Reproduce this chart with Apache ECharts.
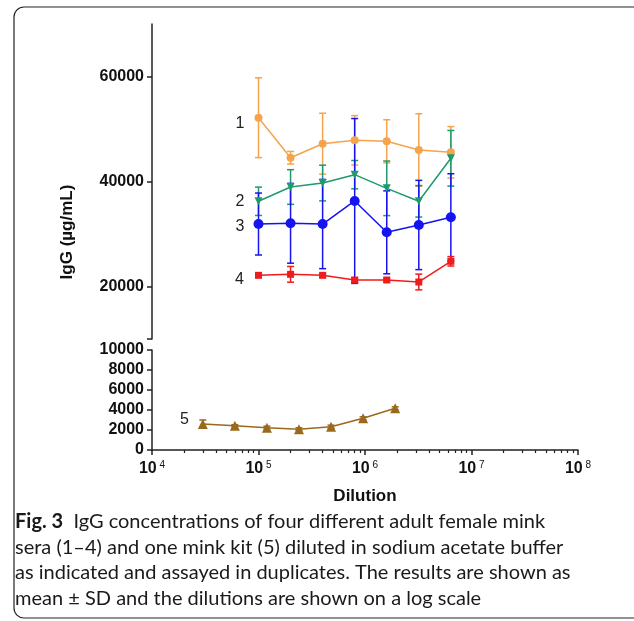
<!DOCTYPE html>
<html>
<head>
<meta charset="utf-8">
<script src="https://cdn.jsdelivr.net/npm/echarts@6/dist/echarts.min.js"></script>
<style>html,body{margin:0;padding:0;background:#fff;}#c{width:634px;height:621px;}</style>
</head>
<body>
<div id="c"></div>
<script>
// ---- data ----
const dilutions = [1e5, 2e5, 4e5, 8e5, 1.6e6, 3.2e6, 6.4e6];
const kitDilutions = [3e4, 6e4, 1.2e5, 2.4e5, 4.8e5, 9.6e5, 1.92e6];
const serum1Mean = [52150, 44530, 47200, 47850, 47660, 46000, 45560];
const serum1SD   = [7600, 1200, 5800, 4700, 4100, 6900, 4900];
const serum2Mean = [36230, 38950, 39710, 41300, 38700, 36230, 44420];
const serum2SD   = [2700, 3300, 3400, 2700, 5200, 3000, 5300];
const serum3Mean = [31900, 32040, 31900, 36290, 30320, 31715, 33180];
const serum3SD   = [5900, 7600, 8500, 15700, 7900, 8500, 8300];
const serum4Mean = [22130, 22320, 22130, 21240, 21240, 20860, 24800];
const serum4SD   = [200, 1500, 300, 400, 300, 1500, 900];
const kitMean    = [2600, 2430, 2230, 2070, 2330, 3170, 4170];
const kitSD      = [400, 100, 150, 150, 150, 150, 150];
const seriesNames = ['1', '2', '3', '4', '5'];
const upperTicks = [20000, 40000, 60000];
const xMajorTicks = [1e4, 1e5, 1e6, 1e7, 1e8];
const xMinorTicks = [];
for (let d = 1e4; d < 1e8; d *= 10) for (let k = 2; k <= 9; k++) xMinorTicks.push(k * d);
const captionBold = 'Fig. 3';
const captionLines = [
  '  IgG concentrations of four different adult female mink',
  'sera (1–4) and one mink kit (5) diluted in sodium acetate buffer',
  'as indicated and assayed in duplicates. The results are shown as',
  'mean ± SD and the dilutions are shown on a log scale'
];

const colors = ['#F6A34E', '#1E9A6C', '#1414F0', '#EE1C1C', '#9A6A1C'];
const AX = '#222';
const LF = 'Liberation Sans';
const CF = 'Lato';

function pts(xs, ys) { return xs.map((x, i) => [x, ys[i]]); }
function errPts(xs, ys, sd) { return xs.map((x, i) => [x, ys[i], sd[i]]); }

function errSeries(data, color, gi) {
  return {
    type: 'custom', xAxisIndex: gi === 0 ? 0 : 1, yAxisIndex: gi, z: 2,
    data: data, silent: true,
    renderItem: function (params, api) {
      const x = api.value(0), y = api.value(1), e = api.value(2);
      const t = api.coord([x, y + e]), b = api.coord([x, y - e]);
      const w = 3.5;
      const st = { stroke: color, lineWidth: 1.5 };
      return { type: 'group', children: [
        { type: 'line', shape: { x1: t[0], y1: t[1], x2: b[0], y2: b[1] }, style: st },
        { type: 'line', shape: { x1: t[0] - w, y1: t[1], x2: t[0] + w, y2: t[1] }, style: st },
        { type: 'line', shape: { x1: b[0] - w, y1: b[1], x2: b[0] + w, y2: b[1] }, style: st }
      ]};
    }
  };
}
function lineSeries(name, data, color, gi, symbol, size, rot, lblOffset, lblDist) {
  return {
    name: name, type: 'line', xAxisIndex: gi === 0 ? 0 : 1, yAxisIndex: gi, z: 3,
    data: data, symbol: symbol, symbolSize: size, symbolRotate: rot,
    lineStyle: { color: color, width: 1.5 }, itemStyle: { color: color },
    animation: false,
    label: { show: true, position: 'left', distance: lblDist, offset: lblOffset,
      color: '#222', fontFamily: LF, fontSize: 16,
      formatter: p => p.dataIndex === 0 ? name : '' }
  };
}

const chart = echarts.init(document.getElementById('c'), null, { renderer: 'canvas' });
const boldLbl = { color: '#111', fontFamily: LF, fontWeight: 'bold', fontSize: 16, formatter: v => String(v) };
chart.setOption({
  animation: false,
  grid: [
    { left: 152, top: 24, width: 426, height: 315 },
    { left: 152, top: 350, width: 426, height: 100 }
  ],
  xAxis: [
    { type: 'log', gridIndex: 0, min: 1e4, max: 1e8, show: false },
    { type: 'log', gridIndex: 1, min: 1e4, max: 1e8, position: 'bottom',
      axisLine: { lineStyle: { color: AX, width: 1.5 } },
      axisTick: { length: 5, lineStyle: { color: AX, width: 1.5 }, customValues: xMajorTicks },
      axisLabel: { margin: 10, customValues: xMajorTicks,
        formatter: v => '{b|10}{s| ' + Math.round(Math.log10(v)) + '}',
        rich: { b: { fontFamily: LF, fontWeight: 'bold', fontSize: 16, color: '#111' },
                s: { fontFamily: LF, fontSize: 10, color: '#111', verticalAlign: 'top', padding: [0, 0, 8, 0] } } },
      splitLine: { show: false },
      name: 'Dilution', nameLocation: 'middle', nameGap: 38,
      nameTextStyle: { fontFamily: LF, fontWeight: 'bold', fontSize: 17, color: '#111' } },
    { type: 'log', gridIndex: 1, min: 1e4, max: 1e8, position: 'bottom',
      axisLine: { show: false },
      axisTick: { length: 3, lineStyle: { color: AX, width: 1.2 }, customValues: xMinorTicks },
      axisLabel: { show: false }, splitLine: { show: false } }
  ],
  yAxis: [
    { type: 'value', gridIndex: 0, min: 10000, max: 70000,
      axisLine: { show: true, lineStyle: { color: AX, width: 1.5 } },
      axisTick: { show: true, length: 5, lineStyle: { color: AX, width: 1.5 }, customValues: [10000].concat(upperTicks) },
      axisLabel: Object.assign({ margin: 8, customValues: upperTicks }, boldLbl),
      splitLine: { show: false } },
    { type: 'value', gridIndex: 1, min: 0, max: 10000, interval: 2000,
      axisLine: { show: true, lineStyle: { color: AX, width: 1.5 } },
      axisTick: { show: true, length: 5, lineStyle: { color: AX, width: 1.5 } },
      axisLabel: Object.assign({ margin: 8 }, boldLbl),
      splitLine: { show: false } }
  ],
  series: [
    errSeries(errPts(dilutions, serum1Mean, serum1SD), colors[0], 0),
    errSeries(errPts(dilutions, serum2Mean, serum2SD), colors[1], 0),
    errSeries(errPts(dilutions, serum3Mean, serum3SD), colors[2], 0),
    errSeries(errPts(dilutions, serum4Mean, serum4SD), colors[3], 0),
    errSeries(errPts(kitDilutions, kitMean, kitSD), colors[4], 1),
    lineSeries(seriesNames[0], pts(dilutions, serum1Mean), colors[0], 0, 'circle', 8, 0, [0, 6], 10),
    lineSeries(seriesNames[1], pts(dilutions, serum2Mean), colors[1], 0, 'triangle', 8, 180, [0, 0], 10),
    lineSeries(seriesNames[2], pts(dilutions, serum3Mean), colors[2], 0, 'circle', 10, 0, [0, 3], 9),
    lineSeries(seriesNames[3], pts(dilutions, serum4Mean), colors[3], 0, 'rect', 7, 0, [0, 4], 11),
    lineSeries(seriesNames[4], pts(kitDilutions, kitMean), colors[4], 1, 'triangle', 10, 0, [0, -4], 9)
  ],
  graphic: [
    { type: 'rect', shape: { x: 14, y: 7, width: 700, height: 611, r: 10 },
      style: { fill: 'none', stroke: '#222', lineWidth: 1.2 }, z: 0 },
    { type: 'text', x: 67, y: 232, rotation: Math.PI / 2,
      style: { text: 'IgG (µg/mL)', fontFamily: LF, fontWeight: 'bold', fontSize: 17, fill: '#111',
               align: 'center', verticalAlign: 'middle' } },
    { type: 'text', x: 15, y: 509,
      style: {
        text: '{b|' + captionBold + '}{r|' + captionLines[0] + '}\n{r|' + captionLines.slice(1).join('}\n{r|') + '}',
        rich: {
          b: { fontFamily: CF, fontWeight: 'bold', fontSize: 20, fill: '#1a1a1a', lineHeight: 25.5 },
          r: { fontFamily: CF, fontSize: 20, fill: '#1a1a1a', lineHeight: 25.5 }
        },
        fill: '#1a1a1a', lineHeight: 25.5
      } }
  ]
});
</script>
</body>
</html>
